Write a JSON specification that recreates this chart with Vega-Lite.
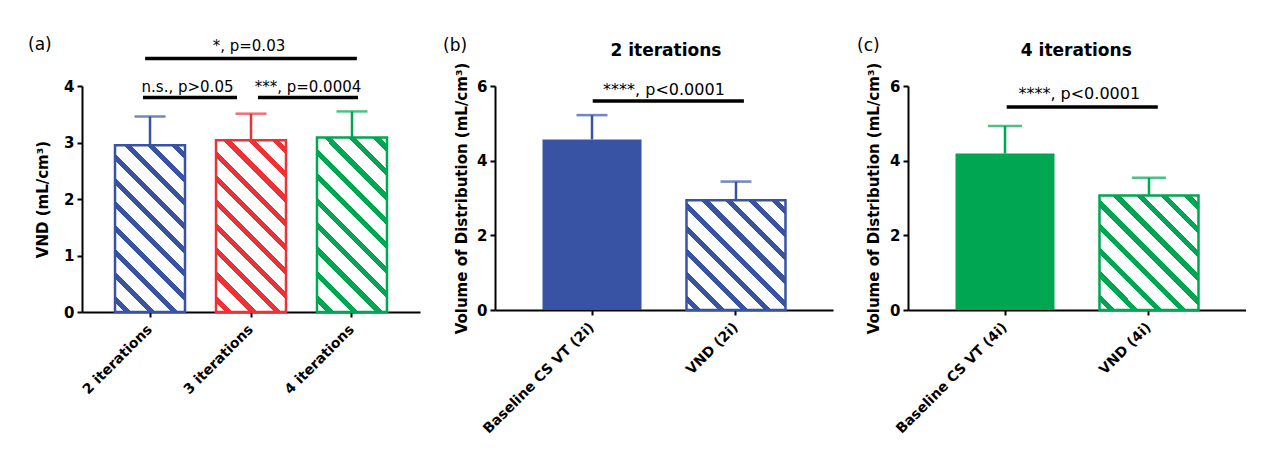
{
  "$schema": "https://vega.github.io/schema/vega-lite/v6.json",
  "background": "white",
  "padding": {"left": 28, "top": 36, "right": 0, "bottom": 0},
  "bounds": "flush",
  "spacing": 75,
  "config": {
    "view": {"stroke": null},
    "font": "DejaVu Sans",
    "axis": {"domainColor": "black", "domainWidth": 2, "tickColor": "black", "tickWidth": 2, "tickSize": 5, "labelColor": "black", "labelFont": "DejaVu Sans", "labelFontWeight": "bold", "titleFont": "DejaVu Sans", "titleFontWeight": "bold", "titleColor": "black", "grid": false},
    "axisY": {"labelFontSize": 15, "titleFontSize": 15, "labelPadding": 3, "format": "d"},
    "axisX": {"labelFontSize": 14, "labelAngle": -45, "labelAlign": "right", "labelBaseline": "middle", "labelPadding": 10},
    "text": {"font": "DejaVu Sans", "color": "black"}
  },
  "datasets": {
    "a": [
      {"group": "2 iterations", "mean": 2.95, "upper": 3.46},
      {"group": "3 iterations", "mean": 3.04, "upper": 3.51},
      {"group": "4 iterations", "mean": 3.09, "upper": 3.55}
    ],
    "sa": [
      {"id": "all", "from": "2 iterations", "to": "4 iterations", "level": 4.485, "textLevel": 4.62, "label": "*, p=0.03"},
      {"id": "ns", "from": "2 iterations", "to": "3 iterations", "level": 3.795, "textLevel": 3.894, "label": "n.s., p>0.05"},
      {"id": "sig", "from": "3 iterations", "to": "4 iterations", "level": 3.795, "textLevel": 3.894, "label": "***, p=0.0004"}
    ],
    "b": [
      {"group": "Baseline CS VT (2i)", "mean": 4.57, "upper": 5.22},
      {"group": "VND (2i)", "mean": 2.94, "upper": 3.44}
    ],
    "sb": [
      {"from": "Baseline CS VT (2i)", "to": "VND (2i)", "level": 5.6, "textLevel": 5.76, "label": "****, p<0.0001", "title": "2 iterations", "panel": "(b)"}
    ],
    "c": [
      {"group": "Baseline CS VT (4i)", "mean": 4.19, "upper": 4.93},
      {"group": "VND (4i)", "mean": 3.07, "upper": 3.54}
    ],
    "sc": [
      {"from": "Baseline CS VT (4i)", "to": "VND (4i)", "level": 5.44, "textLevel": 5.65, "label": "****, p<0.0001", "title": "4 iterations", "panel": "(c)"}
    ]
  },
  "hconcat": [
    {
      "width": 338,
      "height": 226,
      "layer": [
        {
          "data": {"name": "a"},
          "transform": [{"filter": "datum.group === '2 iterations'"}],
          "mark": {"type": "bar", "stroke": "#3953A4", "strokeWidth": 2.5, "fill": {"gradient": "linear", "x1": 0, "y1": 1, "x2": 0.507, "y2": -0.207, "stops": [{"offset":0,"color":"#ffffff"},{"offset":0.04,"color":"#ffffff"},{"offset":0.04,"color":"#3953A4"},{"offset":0.07,"color":"#3953A4"},{"offset":0.07,"color":"#ffffff"},{"offset":0.14,"color":"#ffffff"},{"offset":0.14,"color":"#3953A4"},{"offset":0.17,"color":"#3953A4"},{"offset":0.17,"color":"#ffffff"},{"offset":0.24,"color":"#ffffff"},{"offset":0.24,"color":"#3953A4"},{"offset":0.27,"color":"#3953A4"},{"offset":0.27,"color":"#ffffff"},{"offset":0.34,"color":"#ffffff"},{"offset":0.34,"color":"#3953A4"},{"offset":0.37,"color":"#3953A4"},{"offset":0.37,"color":"#ffffff"},{"offset":0.44,"color":"#ffffff"},{"offset":0.44,"color":"#3953A4"},{"offset":0.47,"color":"#3953A4"},{"offset":0.47,"color":"#ffffff"},{"offset":0.54,"color":"#ffffff"},{"offset":0.54,"color":"#3953A4"},{"offset":0.57,"color":"#3953A4"},{"offset":0.57,"color":"#ffffff"},{"offset":0.64,"color":"#ffffff"},{"offset":0.64,"color":"#3953A4"},{"offset":0.67,"color":"#3953A4"},{"offset":0.67,"color":"#ffffff"},{"offset":0.74,"color":"#ffffff"},{"offset":0.74,"color":"#3953A4"},{"offset":0.77,"color":"#3953A4"},{"offset":0.77,"color":"#ffffff"},{"offset":0.84,"color":"#ffffff"},{"offset":0.84,"color":"#3953A4"},{"offset":0.87,"color":"#3953A4"},{"offset":0.87,"color":"#ffffff"},{"offset":0.94,"color":"#ffffff"},{"offset":0.94,"color":"#3953A4"},{"offset":0.97,"color":"#3953A4"},{"offset":0.97,"color":"#ffffff"},{"offset":1,"color":"#ffffff"}]}},
          "encoding": {
            "x": {"field": "group", "type": "nominal", "sort": null, "scale": {"domain": ["2 iterations", "3 iterations", "4 iterations"], "paddingInner": 0.307, "paddingOuter": 0.327}, "axis": {"title": null}},
            "y": {"field": "mean", "type": "quantitative", "scale": {"domain": [0, 4], "nice": false}, "axis": {"title": "VND (mL/cm³)", "values": [0, 1, 2, 3, 4], "titlePadding": 13}}
          }
        },
        {
          "data": {"name": "a"},
          "transform": [{"filter": "datum.group === '3 iterations'"}],
          "mark": {"type": "bar", "stroke": "#ED3237", "strokeWidth": 2.5, "fill": {"gradient": "linear", "x1": 0, "y1": 1, "x2": 0.492, "y2": -0.207, "stops": [{"offset":0,"color":"#ffffff"},{"offset":0.04,"color":"#ffffff"},{"offset":0.04,"color":"#ED3237"},{"offset":0.07,"color":"#ED3237"},{"offset":0.07,"color":"#ffffff"},{"offset":0.14,"color":"#ffffff"},{"offset":0.14,"color":"#ED3237"},{"offset":0.17,"color":"#ED3237"},{"offset":0.17,"color":"#ffffff"},{"offset":0.24,"color":"#ffffff"},{"offset":0.24,"color":"#ED3237"},{"offset":0.27,"color":"#ED3237"},{"offset":0.27,"color":"#ffffff"},{"offset":0.34,"color":"#ffffff"},{"offset":0.34,"color":"#ED3237"},{"offset":0.37,"color":"#ED3237"},{"offset":0.37,"color":"#ffffff"},{"offset":0.44,"color":"#ffffff"},{"offset":0.44,"color":"#ED3237"},{"offset":0.47,"color":"#ED3237"},{"offset":0.47,"color":"#ffffff"},{"offset":0.54,"color":"#ffffff"},{"offset":0.54,"color":"#ED3237"},{"offset":0.57,"color":"#ED3237"},{"offset":0.57,"color":"#ffffff"},{"offset":0.64,"color":"#ffffff"},{"offset":0.64,"color":"#ED3237"},{"offset":0.67,"color":"#ED3237"},{"offset":0.67,"color":"#ffffff"},{"offset":0.74,"color":"#ffffff"},{"offset":0.74,"color":"#ED3237"},{"offset":0.77,"color":"#ED3237"},{"offset":0.77,"color":"#ffffff"},{"offset":0.84,"color":"#ffffff"},{"offset":0.84,"color":"#ED3237"},{"offset":0.87,"color":"#ED3237"},{"offset":0.87,"color":"#ffffff"},{"offset":0.94,"color":"#ffffff"},{"offset":0.94,"color":"#ED3237"},{"offset":0.97,"color":"#ED3237"},{"offset":0.97,"color":"#ffffff"},{"offset":1,"color":"#ffffff"}]}},
          "encoding": {
            "x": {"field": "group", "type": "nominal"},
            "y": {"field": "mean", "type": "quantitative"}
          }
        },
        {
          "data": {"name": "a"},
          "transform": [{"filter": "datum.group === '4 iterations'"}],
          "mark": {"type": "bar", "stroke": "#00A651", "strokeWidth": 2.5, "fill": {"gradient": "linear", "x1": 0, "y1": 1, "x2": 0.484, "y2": -0.207, "stops": [{"offset":0,"color":"#ffffff"},{"offset":0.04,"color":"#ffffff"},{"offset":0.04,"color":"#00A651"},{"offset":0.07,"color":"#00A651"},{"offset":0.07,"color":"#ffffff"},{"offset":0.14,"color":"#ffffff"},{"offset":0.14,"color":"#00A651"},{"offset":0.17,"color":"#00A651"},{"offset":0.17,"color":"#ffffff"},{"offset":0.24,"color":"#ffffff"},{"offset":0.24,"color":"#00A651"},{"offset":0.27,"color":"#00A651"},{"offset":0.27,"color":"#ffffff"},{"offset":0.34,"color":"#ffffff"},{"offset":0.34,"color":"#00A651"},{"offset":0.37,"color":"#00A651"},{"offset":0.37,"color":"#ffffff"},{"offset":0.44,"color":"#ffffff"},{"offset":0.44,"color":"#00A651"},{"offset":0.47,"color":"#00A651"},{"offset":0.47,"color":"#ffffff"},{"offset":0.54,"color":"#ffffff"},{"offset":0.54,"color":"#00A651"},{"offset":0.57,"color":"#00A651"},{"offset":0.57,"color":"#ffffff"},{"offset":0.64,"color":"#ffffff"},{"offset":0.64,"color":"#00A651"},{"offset":0.67,"color":"#00A651"},{"offset":0.67,"color":"#ffffff"},{"offset":0.74,"color":"#ffffff"},{"offset":0.74,"color":"#00A651"},{"offset":0.77,"color":"#00A651"},{"offset":0.77,"color":"#ffffff"},{"offset":0.84,"color":"#ffffff"},{"offset":0.84,"color":"#00A651"},{"offset":0.87,"color":"#00A651"},{"offset":0.87,"color":"#ffffff"},{"offset":0.94,"color":"#ffffff"},{"offset":0.94,"color":"#00A651"},{"offset":0.97,"color":"#00A651"},{"offset":0.97,"color":"#ffffff"},{"offset":1,"color":"#ffffff"}]}},
          "encoding": {
            "x": {"field": "group", "type": "nominal"},
            "y": {"field": "mean", "type": "quantitative"}
          }
        },
        {
          "data": {"name": "a"},
          "mark": {"type": "rule", "strokeWidth": 2.5},
          "encoding": {
            "x": {"field": "group", "type": "nominal"},
            "y": {"field": "mean", "type": "quantitative"},
            "y2": {"field": "upper"},
            "color": {"field": "group", "type": "nominal", "scale": {"domain": ["2 iterations", "3 iterations", "4 iterations"], "range": ["#3953A4", "#ED3237", "#00A651"]}, "legend": null}
          }
        },
        {
          "data": {"name": "a"},
          "mark": {"type": "tick", "size": 31, "thickness": 2.5},
          "encoding": {
            "x": {"field": "group", "type": "nominal"},
            "y": {"field": "upper", "type": "quantitative"},
            "color": {"field": "group", "type": "nominal", "legend": null}
          }
        },
        {
          "data": {"name": "sa"},
          "transform": [{"filter": "datum.id === 'all'"}],
          "mark": {"type": "rule", "strokeWidth": 3.5, "color": "black"},
          "encoding": {
            "x": {"field": "from", "type": "nominal", "bandPosition": 0.43},
            "x2": {"field": "to", "bandPosition": 0.57},
            "y": {"field": "level", "type": "quantitative"}
          }
        },
        {
          "data": {"name": "sa"},
          "transform": [{"filter": "datum.id === 'ns'"}],
          "mark": {"type": "rule", "strokeWidth": 3.5, "color": "black"},
          "encoding": {
            "x": {"field": "from", "type": "nominal", "bandPosition": 0.4},
            "x2": {"field": "to", "bandPosition": 0.3},
            "y": {"field": "level", "type": "quantitative"}
          }
        },
        {
          "data": {"name": "sa"},
          "transform": [{"filter": "datum.id === 'sig'"}],
          "mark": {"type": "rule", "strokeWidth": 3.5, "color": "black"},
          "encoding": {
            "x": {"field": "from", "type": "nominal", "bandPosition": 0.6},
            "x2": {"field": "to", "bandPosition": 0.586},
            "y": {"field": "level", "type": "quantitative"}
          }
        },
        {
          "data": {"name": "sa"},
          "transform": [{"filter": "datum.id === 'all'"}],
          "mark": {"type": "text", "fontSize": 15, "align": "center", "baseline": "alphabetic"},
          "encoding": {
            "x": {"field": "from", "type": "nominal", "bandPosition": 1.914},
            "y": {"field": "textLevel", "type": "quantitative"},
            "text": {"field": "label"}
          }
        },
        {
          "data": {"name": "sa"},
          "transform": [{"filter": "datum.id === 'ns'"}],
          "mark": {"type": "text", "fontSize": 15, "align": "center", "baseline": "alphabetic"},
          "encoding": {
            "x": {"field": "from", "type": "nominal", "bandPosition": 1.036},
            "y": {"field": "textLevel", "type": "quantitative"},
            "text": {"field": "label"}
          }
        },
        {
          "data": {"name": "sa"},
          "transform": [{"filter": "datum.id === 'sig'"}],
          "mark": {"type": "text", "fontSize": 15, "align": "center", "baseline": "alphabetic"},
          "encoding": {
            "x": {"field": "from", "type": "nominal", "bandPosition": 1.314},
            "y": {"field": "textLevel", "type": "quantitative"},
            "text": {"field": "label"}
          }
        },
        {
          "data": {"values": [{"t": "(a)", "at": "2 iterations"}]},
          "mark": {"type": "text", "fontSize": 17, "align": "left", "baseline": "alphabetic"},
          "encoding": {
            "x": {"field": "at", "type": "nominal", "bandPosition": -1.243},
            "y": {"datum": 4.63, "type": "quantitative"},
            "text": {"field": "t"}
          }
        }
      ]
    },
    {
      "width": 338,
      "height": 224,
      "layer": [
        {
          "data": {"name": "b"},
          "transform": [{"filter": "datum.group === 'Baseline CS VT (2i)'"}],
          "mark": {"type": "bar", "color": "#3953A4"},
          "encoding": {
            "x": {"field": "group", "type": "nominal", "sort": null, "scale": {"domain": ["Baseline CS VT (2i)", "VND (2i)"], "paddingInner": 0.3125, "paddingOuter": 0.33}, "axis": {"title": null}},
            "y": {"field": "mean", "type": "quantitative", "scale": {"domain": [0, 6], "nice": false}, "axis": {"title": "Volume of Distribution (mL/cm³)", "values": [0, 2, 4, 6], "titlePadding": 7}}
          }
        },
        {
          "data": {"name": "b"},
          "transform": [{"filter": "datum.group === 'VND (2i)'"}],
          "mark": {"type": "bar", "stroke": "#3953A4", "strokeWidth": 2.5, "fill": {"gradient": "linear", "x1": 0, "y1": 1, "x2": 0.946, "y2": -0.049, "stops": [{"offset":0,"color":"#ffffff"},{"offset":0.04,"color":"#ffffff"},{"offset":0.04,"color":"#3953A4"},{"offset":0.074,"color":"#3953A4"},{"offset":0.074,"color":"#ffffff"},{"offset":0.151,"color":"#ffffff"},{"offset":0.151,"color":"#3953A4"},{"offset":0.185,"color":"#3953A4"},{"offset":0.185,"color":"#ffffff"},{"offset":0.262,"color":"#ffffff"},{"offset":0.262,"color":"#3953A4"},{"offset":0.296,"color":"#3953A4"},{"offset":0.296,"color":"#ffffff"},{"offset":0.373,"color":"#ffffff"},{"offset":0.373,"color":"#3953A4"},{"offset":0.407,"color":"#3953A4"},{"offset":0.407,"color":"#ffffff"},{"offset":0.484,"color":"#ffffff"},{"offset":0.484,"color":"#3953A4"},{"offset":0.518,"color":"#3953A4"},{"offset":0.518,"color":"#ffffff"},{"offset":0.596,"color":"#ffffff"},{"offset":0.596,"color":"#3953A4"},{"offset":0.63,"color":"#3953A4"},{"offset":0.63,"color":"#ffffff"},{"offset":0.707,"color":"#ffffff"},{"offset":0.707,"color":"#3953A4"},{"offset":0.741,"color":"#3953A4"},{"offset":0.741,"color":"#ffffff"},{"offset":0.818,"color":"#ffffff"},{"offset":0.818,"color":"#3953A4"},{"offset":0.852,"color":"#3953A4"},{"offset":0.852,"color":"#ffffff"},{"offset":0.929,"color":"#ffffff"},{"offset":0.929,"color":"#3953A4"},{"offset":0.963,"color":"#3953A4"},{"offset":0.963,"color":"#ffffff"},{"offset":1,"color":"#ffffff"}]}},
          "encoding": {
            "x": {"field": "group", "type": "nominal"},
            "y": {"field": "mean", "type": "quantitative"}
          }
        },
        {
          "data": {"name": "b"},
          "mark": {"type": "rule", "strokeWidth": 2.5, "color": "#3953A4"},
          "encoding": {
            "x": {"field": "group", "type": "nominal"},
            "y": {"field": "mean", "type": "quantitative"},
            "y2": {"field": "upper"}
          }
        },
        {
          "data": {"name": "b"},
          "mark": {"type": "tick", "size": 31, "thickness": 2.5, "color": "#3953A4"},
          "encoding": {
            "x": {"field": "group", "type": "nominal"},
            "y": {"field": "upper", "type": "quantitative"}
          }
        },
        {
          "data": {"name": "sb"},
          "mark": {"type": "rule", "strokeWidth": 3.5, "color": "black"},
          "encoding": {
            "x": {"field": "from", "type": "nominal", "bandPosition": 0.507},
            "x2": {"field": "to", "bandPosition": 0.58},
            "y": {"field": "level", "type": "quantitative"}
          }
        },
        {
          "data": {"name": "sb"},
          "mark": {"type": "text", "fontSize": 16, "align": "center", "baseline": "alphabetic"},
          "encoding": {
            "x": {"field": "from", "type": "nominal", "bandPosition": 1.227},
            "y": {"field": "textLevel", "type": "quantitative"},
            "text": {"field": "label"}
          }
        },
        {
          "data": {"name": "sb"},
          "mark": {"type": "text", "fontSize": 17, "fontWeight": "bold", "align": "center", "baseline": "alphabetic"},
          "encoding": {
            "x": {"field": "from", "type": "nominal", "bandPosition": 1.247},
            "y": {"datum": 6.8, "type": "quantitative"},
            "text": {"field": "title"}
          }
        },
        {
          "data": {"name": "sb"},
          "mark": {"type": "text", "fontSize": 17, "align": "left", "baseline": "alphabetic"},
          "encoding": {
            "x": {"field": "from", "type": "nominal", "bandPosition": -1.005},
            "y": {"datum": 6.95, "type": "quantitative"},
            "text": {"field": "panel"}
          }
        }
      ]
    },
    {
      "width": 338,
      "height": 224,
      "layer": [
        {
          "data": {"name": "c"},
          "transform": [{"filter": "datum.group === 'Baseline CS VT (4i)'"}],
          "mark": {"type": "bar", "color": "#00A651"},
          "encoding": {
            "x": {"field": "group", "type": "nominal", "sort": null, "scale": {"domain": ["Baseline CS VT (4i)", "VND (4i)"], "paddingInner": 0.3125, "paddingOuter": 0.33}, "axis": {"title": null}},
            "y": {"field": "mean", "type": "quantitative", "scale": {"domain": [0, 6], "nice": false}, "axis": {"title": "Volume of Distribution (mL/cm³)", "values": [0, 2, 4, 6], "titlePadding": 8}}
          }
        },
        {
          "data": {"name": "c"},
          "transform": [{"filter": "datum.group === 'VND (4i)'"}],
          "mark": {"type": "bar", "stroke": "#00A651", "strokeWidth": 2.5, "fill": {"gradient": "linear", "x1": 0, "y1": 1, "x2": 0.922, "y2": -0.067, "stops": [{"offset":0,"color":"#ffffff"},{"offset":0.04,"color":"#ffffff"},{"offset":0.04,"color":"#00A651"},{"offset":0.074,"color":"#00A651"},{"offset":0.074,"color":"#ffffff"},{"offset":0.151,"color":"#ffffff"},{"offset":0.151,"color":"#00A651"},{"offset":0.185,"color":"#00A651"},{"offset":0.185,"color":"#ffffff"},{"offset":0.262,"color":"#ffffff"},{"offset":0.262,"color":"#00A651"},{"offset":0.296,"color":"#00A651"},{"offset":0.296,"color":"#ffffff"},{"offset":0.373,"color":"#ffffff"},{"offset":0.373,"color":"#00A651"},{"offset":0.407,"color":"#00A651"},{"offset":0.407,"color":"#ffffff"},{"offset":0.484,"color":"#ffffff"},{"offset":0.484,"color":"#00A651"},{"offset":0.518,"color":"#00A651"},{"offset":0.518,"color":"#ffffff"},{"offset":0.596,"color":"#ffffff"},{"offset":0.596,"color":"#00A651"},{"offset":0.63,"color":"#00A651"},{"offset":0.63,"color":"#ffffff"},{"offset":0.707,"color":"#ffffff"},{"offset":0.707,"color":"#00A651"},{"offset":0.741,"color":"#00A651"},{"offset":0.741,"color":"#ffffff"},{"offset":0.818,"color":"#ffffff"},{"offset":0.818,"color":"#00A651"},{"offset":0.852,"color":"#00A651"},{"offset":0.852,"color":"#ffffff"},{"offset":0.929,"color":"#ffffff"},{"offset":0.929,"color":"#00A651"},{"offset":0.963,"color":"#00A651"},{"offset":0.963,"color":"#ffffff"},{"offset":1,"color":"#ffffff"}]}},
          "encoding": {
            "x": {"field": "group", "type": "nominal"},
            "y": {"field": "mean", "type": "quantitative"}
          }
        },
        {
          "data": {"name": "c"},
          "mark": {"type": "rule", "strokeWidth": 2.5, "color": "#00A651"},
          "encoding": {
            "x": {"field": "group", "type": "nominal"},
            "y": {"field": "mean", "type": "quantitative"},
            "y2": {"field": "upper"}
          }
        },
        {
          "data": {"name": "c"},
          "mark": {"type": "tick", "size": 34, "thickness": 2.5, "color": "#00A651"},
          "encoding": {
            "x": {"field": "group", "type": "nominal"},
            "y": {"field": "upper", "type": "quantitative"}
          }
        },
        {
          "data": {"name": "sc"},
          "mark": {"type": "rule", "strokeWidth": 3.5, "color": "black"},
          "encoding": {
            "x": {"field": "from", "type": "nominal", "bandPosition": 0.517},
            "x2": {"field": "to", "bandPosition": 0.589},
            "y": {"field": "level", "type": "quantitative"}
          }
        },
        {
          "data": {"name": "sc"},
          "mark": {"type": "text", "fontSize": 16, "align": "center", "baseline": "alphabetic"},
          "encoding": {
            "x": {"field": "from", "type": "nominal", "bandPosition": 1.25},
            "y": {"field": "textLevel", "type": "quantitative"},
            "text": {"field": "label"}
          }
        },
        {
          "data": {"name": "sc"},
          "mark": {"type": "text", "fontSize": 17, "fontWeight": "bold", "align": "center", "baseline": "alphabetic"},
          "encoding": {
            "x": {"field": "from", "type": "nominal", "bandPosition": 1.22},
            "y": {"datum": 6.8, "type": "quantitative"},
            "text": {"field": "title"}
          }
        },
        {
          "data": {"name": "sc"},
          "mark": {"type": "text", "fontSize": 17, "align": "left", "baseline": "alphabetic"},
          "encoding": {
            "x": {"field": "from", "type": "nominal", "bandPosition": -0.995},
            "y": {"datum": 6.95, "type": "quantitative"},
            "text": {"field": "panel"}
          }
        }
      ]
    }
  ]
}
